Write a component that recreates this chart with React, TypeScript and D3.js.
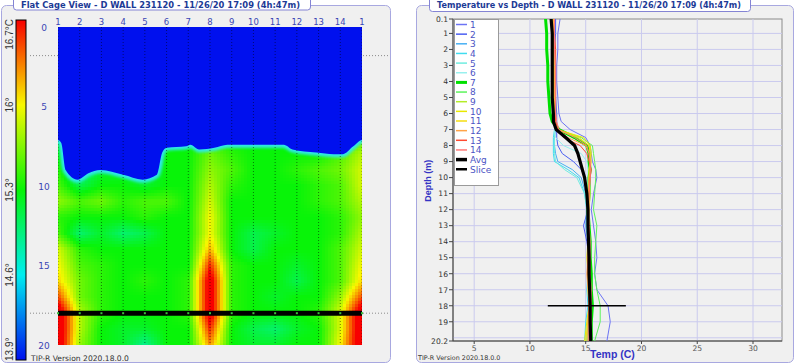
import React from 'react';
import * as d3 from 'd3';

// ---------- Flat cage view (left) ----------
const cageColumns = ['1', '2', '3', '4', '5', '6', '7', '8', '9', '10', '11', '12', '13', '14', '1'];
const cageDepthTicks = [0, 5, 10, 15, 20];
const scaleTemps = [13.9, 14.6, 15.3, 16.0, 16.7];
const scaleLabels = ['13.9°', '14.6°', '15.3°', '16°', '16.7°C'];
const scaleColors = ['#0010ee', '#00eef0', '#08f408', '#f8f800', '#f80000'];
const coldTemp = 13.9;

const gridDepths = [7, 8, 9, 10, 11, 12, 13, 14, 15, 16, 17, 18, 19, 20];
// rows = depth, columns = tubes 1..14 and the wrap back to tube 1
const gridTemps = [
  [15.3, 15.0, 15.0, 15.0, 15.0, 15.3, 15.3, 15.4, 15.3, 15.3, 15.3, 15.3, 15.3, 15.4, 15.5],
  [15.3, 15.0, 15.0, 15.0, 15.0, 15.3, 15.3, 15.6, 15.4, 15.3, 15.3, 15.3, 15.3, 15.5, 15.8],
  [15.4, 14.9, 15.2, 15.2, 15.1, 15.3, 15.3, 15.7, 15.5, 15.3, 15.3, 15.4, 15.5, 15.6, 15.9],
  [15.5, 15.1, 15.3, 15.3, 15.2, 15.3, 15.3, 15.8, 15.4, 15.3, 15.3, 15.3, 15.4, 15.5, 15.9],
  [15.7, 15.5, 15.6, 15.4, 15.5, 15.5, 15.3, 15.9, 15.3, 15.3, 15.3, 15.3, 15.4, 15.5, 15.8],
  [15.4, 15.3, 15.3, 15.3, 15.4, 15.3, 15.3, 16.0, 15.3, 15.3, 15.3, 15.3, 15.3, 15.4, 15.7],
  [15.5, 15.0, 15.2, 15.0, 15.1, 15.3, 15.3, 16.0, 15.3, 15.1, 15.2, 15.3, 15.3, 15.4, 15.8],
  [15.9, 15.4, 15.3, 15.3, 15.3, 15.3, 15.3, 16.2, 15.3, 15.1, 15.3, 15.3, 15.3, 15.5, 15.9],
  [16.0, 15.5, 15.4, 15.3, 15.3, 15.3, 15.3, 16.6, 15.4, 15.3, 15.3, 15.2, 15.3, 15.5, 16.0],
  [16.1, 15.6, 15.4, 15.3, 15.4, 15.3, 15.4, 16.9, 15.4, 15.3, 15.3, 15.1, 15.3, 15.5, 16.1],
  [16.5, 15.6, 15.4, 15.3, 15.3, 15.3, 15.4, 16.9, 15.4, 15.3, 15.2, 15.3, 15.3, 15.7, 16.5],
  [17.0, 15.8, 15.4, 15.3, 15.3, 15.3, 15.4, 16.9, 15.4, 15.3, 15.3, 15.3, 15.4, 15.9, 17.0],
  [17.0, 15.8, 15.3, 15.2, 15.2, 15.3, 15.3, 16.6, 15.3, 15.1, 15.0, 15.2, 15.3, 15.9, 17.0],
  [17.0, 15.7, 15.3, 15.2, 14.9, 15.3, 15.3, 16.3, 15.3, 15.2, 15.2, 15.3, 15.3, 16.0, 17.0],
];

// bottom edge of the cold (blue) top layer
const coldEdgeCol = [1, 1.15, 1.35, 1.9, 2.4, 2.95, 4.0, 4.9, 5.55, 5.8, 6.0, 6.9, 7.1, 7.5, 8.2, 8.8, 11.4, 11.8, 12.9, 13.7, 14.1, 14.6, 15];
const coldEdgeDepth = [7.1, 7.3, 9.0, 9.6, 9.2, 9.0, 9.3, 9.6, 9.3, 7.9, 7.6, 7.5, 7.4, 7.7, 7.6, 7.4, 7.4, 7.7, 7.9, 8.0, 8.0, 7.5, 7.1];

const guideDepths = [1.8, 18];
const sliceDepth = 18;
const sliceTemps = [11.6, 18.6];

// ---------- Temperature vs depth (right) ----------
const depthsM = [0.1, 1, 2, 3, 4, 5, 6, 6.5, 7, 7.5, 8, 8.5, 9, 9.5, 10, 11, 12, 13, 14, 15, 16, 17, 18, 19, 20.2];
const tube1 = [12.7, 12.5, 12.5, 12.4, 12.4, 12.5, 12.6, 12.8, 13.6, 15.0, 15.4, 15.5, 15.6, 15.9, 16.0, 15.7, 15.5, 15.7, 15.9, 16.0, 15.8, 16.0, 17.0, 17.2, 16.9];
const tube2 = [12.3, 12.3, 12.2, 12.2, 12.3, 12.3, 12.4, 12.4, 12.4, 12.4, 12.5, 12.9, 13.9, 14.6, 14.9, 15.1, 15.2, 14.8, 15.1, 15.3, 15.2, 15.3, 15.4, 15.3, 15.2];
const tube3 = [12.2, 12.2, 12.2, 12.3, 12.2, 12.3, 12.3, 12.3, 12.3, 12.2, 12.2, 12.3, 12.5, 13.8, 14.6, 15.0, 15.1, 15.0, 15.2, 15.3, 15.2, 15.3, 15.3, 15.2, 15.1];
const tube4 = [12.1, 12.1, 12.1, 12.2, 12.2, 12.2, 12.2, 12.2, 12.2, 12.1, 12.1, 12.1, 12.2, 13.4, 14.4, 14.9, 15.1, 15.1, 15.2, 15.2, 15.2, 15.1, 15.2, 15.0, 14.9];
const tube5 = [12.2, 12.2, 12.2, 12.2, 12.3, 12.3, 12.3, 12.3, 12.2, 12.2, 12.2, 12.2, 12.3, 13.1, 14.2, 14.9, 15.1, 15.2, 15.2, 15.3, 15.3, 15.2, 15.3, 15.2, 15.0];
const tube6 = [12.1, 12.1, 12.1, 12.1, 12.1, 12.2, 12.2, 12.2, 12.2, 12.3, 13.0, 14.6, 15.1, 15.2, 15.2, 15.2, 15.3, 15.3, 15.3, 15.3, 15.3, 15.3, 15.4, 15.3, 15.3];
const tube7 = [11.4, 11.5, 11.5, 11.6, 11.6, 11.7, 11.8, 12.0, 12.6, 14.0, 15.1, 15.3, 15.3, 15.4, 15.3, 15.3, 15.2, 15.3, 15.4, 15.4, 15.5, 15.5, 15.6, 15.5, 15.5];
const tube8 = [12.0, 12.0, 12.0, 12.1, 12.1, 12.1, 12.2, 12.2, 12.4, 14.6, 15.6, 15.7, 15.8, 15.9, 15.9, 15.8, 15.7, 16.0, 15.9, 15.8, 15.8, 16.0, 16.3, 16.3, 15.8];
const tube9 = [12.0, 12.0, 12.1, 12.1, 12.1, 12.1, 12.2, 12.2, 12.4, 14.2, 15.3, 15.4, 15.4, 15.3, 15.3, 15.4, 15.3, 15.3, 15.3, 15.3, 15.2, 15.3, 15.3, 15.2, 15.1];
const tube10 = [12.0, 12.0, 12.0, 12.1, 12.1, 12.1, 12.1, 12.2, 12.5, 14.8, 15.4, 15.5, 15.4, 15.3, 15.3, 15.3, 15.3, 15.2, 15.2, 15.1, 15.2, 15.2, 15.3, 15.1, 14.9];
const tube11 = [12.1, 12.1, 12.1, 12.1, 12.2, 12.2, 12.2, 12.2, 12.4, 14.4, 15.3, 15.4, 15.5, 15.4, 15.3, 15.3, 15.2, 15.3, 15.3, 15.2, 15.2, 15.3, 15.3, 15.2, 15.0];
const tube12 = [12.1, 12.1, 12.2, 12.2, 12.2, 12.2, 12.3, 12.3, 12.5, 13.4, 15.0, 15.3, 15.4, 15.4, 15.3, 15.2, 15.2, 15.2, 15.2, 15.2, 15.1, 15.2, 15.3, 15.2, 15.2];
const tube13 = [12.2, 12.2, 12.3, 12.3, 12.3, 12.3, 12.3, 12.3, 12.5, 13.0, 14.5, 15.1, 15.3, 15.5, 15.4, 15.3, 15.2, 15.3, 15.3, 15.2, 15.2, 15.3, 15.3, 15.3, 15.3];
const tube14 = [12.2, 12.2, 12.2, 12.3, 12.3, 12.3, 12.3, 12.4, 12.6, 14.0, 15.1, 15.3, 15.4, 15.4, 15.4, 15.3, 15.3, 15.3, 15.4, 15.4, 15.4, 15.5, 15.5, 15.5, 15.4];
const avgTemps = [11.9, 12.0, 12.0, 12.0, 12.0, 12.0, 12.1, 12.1, 12.35, 13.2, 14.0, 14.3, 14.5, 14.7, 14.9, 15.1, 15.2, 15.2, 15.25, 15.3, 15.3, 15.35, 15.4, 15.4, 15.45];

const tubeNames = ['1', '2', '3', '4', '5', '6', '7', '8', '9', '10', '11', '12', '13', '14'];
const tubeColors = ['#6c74f4', '#4a5ef2', '#48b0f4', '#40dcf0', '#70ece0', '#98f0ee', '#00e000', '#5cf45c', '#b4ec28', '#e8e800', '#f4dc10', '#ffa448', '#ff4a30', '#ff7a78'];
const depthAxisTicks = [0.1, 1, 2, 3, 4, 5, 6, 7, 8, 9, 10, 11, 12, 13, 14, 15, 16, 17, 18, 19, 20.2];
const depthGrid = [1, 2, 3, 4, 5, 6, 7, 8, 9, 10, 11, 12, 13, 14, 15, 16, 17, 18, 19, 20];
const tempAxisTicks = [5, 10, 15, 20, 25, 30];

const titleDate = 'D WALL 231120 - 11/26/20 17:09 (4h:47m)';
const labelBlue = '#3a46b4';

// temperature at a fractional tube / depth position, read between grid nodes
function gridValue(col: number, depth: number) {
  const nc = gridTemps[0].length;
  const c = Math.max(0, Math.min(nc - 1, col - 1));
  const r = Math.max(0, Math.min(gridDepths.length - 1, depth - gridDepths[0]));
  const c0 = Math.min(Math.floor(c), nc - 2);
  const r0 = Math.min(Math.floor(r), gridDepths.length - 2);
  const fc = c - c0;
  const fr = r - r0;
  const top = gridTemps[r0][c0] * (1 - fc) + gridTemps[r0][c0 + 1] * fc;
  const bot = gridTemps[r0 + 1][c0] * (1 - fc) + gridTemps[r0 + 1][c0 + 1] * fc;
  return top * (1 - fr) + bot * fr;
}

export default function App() {
  const tubes = [tube1, tube2, tube3, tube4, tube5, tube6, tube7, tube8, tube9, tube10, tube11, tube12, tube13, tube14];

  // left panel scales
  const colX = d3.scaleLinear().domain([1, 15]).range([58, 362]);
  const cageY = d3.scaleLinear().domain([0, 20]).range([27, 345]);
  const heat = d3.scaleLinear<string>().domain(scaleTemps).range(scaleColors).clamp(true);
  const barY = d3.scaleLinear().domain([13.9, 16.7]).range([360, 20]);

  // raster of small tiles, coloured from the grid
  const step = 3;
  const tiles: JSX.Element[] = [];
  for (let py = cageY(6.5); py < cageY(20); py += step) {
    for (let px = colX(1); px < colX(15); px += step) {
      const t = gridValue(colX.invert(px + step / 2), cageY.invert(py + step / 2));
      tiles.push(<rect key={`${px}-${py}`} x={px} y={py} width={step + 0.6} height={step + 0.6} fill={heat(t)} />);
    }
  }

  const edgePts: [number, number][] = coldEdgeCol.map((c, i) => [c, coldEdgeDepth[i]]);
  const edgeExt: [number, number][] = [[0.3, coldEdgeDepth[0]], ...edgePts, [15.7, coldEdgeDepth[coldEdgeDepth.length - 1]]];
  const coldArea = d3.area<[number, number]>()
    .x((p) => colX(p[0]))
    .y0(cageY(0) - 10)
    .y1((p) => cageY(p[1]))
    .curve(d3.curveMonotoneX);
  const coldLine = d3.line<[number, number]>()
    .x((p) => colX(p[0]))
    .y((p) => cageY(p[1]))
    .curve(d3.curveMonotoneX);

  // right panel scales
  const tX = d3.scaleLinear().domain([3.1, 32.6]).range([453, 782]);
  const dY = d3.scaleLinear().domain([0.1, 20.2]).range([19, 341]);
  const profile = d3.line<number>()
    .x((t) => tX(t))
    .y((_, i) => dY(depthsM[i]));

  const legendItems = [
    ...tubeNames.map((n, i) => ({ name: n, color: tubeColors[i], w: i === 6 ? 3 : 1.5 })),
    { name: 'Avg', color: '#000', w: 3.5 },
    { name: 'Slice', color: '#000', w: 2.5 },
  ];

  const font = 'DejaVu Sans, Verdana, sans-serif';

  return (
    <div style={{ position: 'absolute', left: 0, top: 0 }}>
      <svg width={800} height={364} style={{ display: 'block', background: '#fff' }}>
        <defs>
          <clipPath id="hmClip">
            <rect x={colX(1)} y={cageY(0)} width={colX(15) - colX(1)} height={cageY(20) - cageY(0)} />
          </clipPath>
          <filter id="edgeBlur" filterUnits="userSpaceOnUse" x={0} y={0} width={400} height={364} colorInterpolationFilters="sRGB">
            <feGaussianBlur stdDeviation="1.5" />
          </filter>
          <linearGradient id="cbGrad" x1="0" y1="1" x2="0" y2="0">
            {scaleTemps.map((t, i) => (
              <stop key={t} offset={(t - 13.9) / 2.8} stopColor={scaleColors[i]} />
            ))}
          </linearGradient>
        </defs>

        {/* ---------- left panel ---------- */}
        <rect x={1.5} y={5.5} width={389} height={357} rx={5} fill="#f0f0f0" stroke="#a8a8e0" />
        <rect x={13.5} y={-4} width={297} height={14} rx={3} fill="#fff" stroke="#8484d4" />
        <text x={21} y={8.3} fontFamily={font} fontWeight="bold" fontSize={8.6} fill="#1c3a96"
          textLength={279} lengthAdjust="spacingAndGlyphs">
          {`Flat Cage View - ${titleDate}`}
        </text>

        {/* colour bar */}
        <rect x={16} y={barY(16.7)} width={10} height={barY(13.9) - barY(16.7)} fill="url(#cbGrad)" stroke="#000" strokeWidth={1} />
        {scaleTemps.map((t, i) => {
          const y = barY(t);
          const anchor = i === scaleTemps.length - 1 ? 'end' : i === 0 ? 'start' : 'middle';
          const yy = i === scaleTemps.length - 1 ? y - 1 : i === 0 ? y + 1 : y;
          return (
            <text key={t} transform={`translate(13,${yy}) rotate(-90)`} textAnchor={anchor}
              fontFamily="Liberation Sans, Arial, sans-serif" fontSize={10} fill="#333">
              {scaleLabels[i]}
            </text>
          );
        })}

        {/* guide lines behind the map */}
        {guideDepths.map((d) => (
          <line key={d} x1={30} x2={388} y1={cageY(d)} y2={cageY(d)} stroke="#8a8a8a" strokeDasharray="1 2" />
        ))}

        {/* heat map */}
        <g clipPath="url(#hmClip)">
          <g shapeRendering="crispEdges">{tiles}</g>
          <path d={coldLine(edgeExt) || ''} fill="none" stroke="#30e8ec" strokeWidth={6} filter="url(#edgeBlur)" />
          <path d={coldArea(edgeExt) || ''} fill={heat(coldTemp)} />
          {cageColumns.map((_, i) => (
            <line key={i} x1={colX(i + 1)} x2={colX(i + 1)} y1={cageY(0)} y2={cageY(20)}
              stroke="#000" strokeOpacity={0.5} strokeDasharray="1 2" />
          ))}
        </g>

        {/* slice */}
        <line x1={colX(1)} x2={colX(15)} y1={cageY(sliceDepth)} y2={cageY(sliceDepth)} stroke="#000" strokeWidth={5} />
        {cageColumns.map((_, i) => (
          <rect key={i} x={colX(i + 1) - 1} y={cageY(sliceDepth) - 1} width={2} height={2} fill="#3cc03c" />
        ))}

        {/* axes labels */}
        {cageColumns.map((c, i) => (
          <text key={i} x={colX(i + 1)} y={25} textAnchor="middle" fontFamily={font} fontSize={8.5} fill={labelBlue}>{c}</text>
        ))}
        {cageDepthTicks.map((d) => (
          <text key={d} x={44} y={cageY(d) + 3.5} textAnchor="middle" fontFamily={font} fontSize={9} fill={labelBlue}>{d}</text>
        ))}
        <text x={31} y={361} fontFamily={font} fontSize={7.6} fill="#333">TIP-R Version 2020.18.0.0</text>

        {/* ---------- right panel ---------- */}
        <rect x={416.5} y={5.5} width={377} height={357} rx={5} fill="#f0f0f0" stroke="#a8a8e0" />
        <rect x={429.5} y={-4} width={321} height={15.5} rx={3} fill="#fff" stroke="#8484d4" />
        <text x={437} y={8.3} fontFamily={font} fontWeight="bold" fontSize={8.6} fill="#1c3a96"
          textLength={304} lengthAdjust="spacingAndGlyphs">
          {`Temperature vs Depth - ${titleDate}`}
        </text>

        <rect x={tX(3.1)} y={dY(0.1)} width={tX(32.6) - tX(3.1)} height={dY(20.2) - dY(0.1)} fill="#f0f0f0" stroke="#8a8a8a" />
        {depthGrid.map((d) => (
          <line key={d} x1={tX(3.1)} x2={tX(32.6)} y1={dY(d)} y2={dY(d)} stroke="#cacaee" />
        ))}
        {tempAxisTicks.map((t) => (
          <line key={t} x1={tX(t)} x2={tX(t)} y1={dY(0.1)} y2={dY(20.2)} stroke="#cacaee" />
        ))}

        {/* axes */}
        <line x1={tX(3.1)} x2={tX(3.1)} y1={dY(0.1)} y2={dY(20.2)} stroke="#444" />
        <line x1={tX(3.1)} x2={tX(32.6)} y1={dY(20.2)} y2={dY(20.2)} stroke="#444" />
        {depthAxisTicks.map((d) => (
          <g key={d}>
            <line x1={tX(3.1) - 4} x2={tX(3.1)} y1={dY(d)} y2={dY(d)} stroke="#444" />
            <text x={tX(3.1) - 5} y={dY(d) + 2.8} textAnchor="end" fontFamily={font} fontSize={7.6} fill="#333">{d}</text>
          </g>
        ))}
        {tempAxisTicks.map((t) => (
          <g key={t}>
            <line x1={tX(t)} x2={tX(t)} y1={dY(20.2)} y2={dY(20.2) + 3} stroke="#444" />
            <text x={tX(t)} y={dY(20.2) + 10} textAnchor="middle" fontFamily={font} fontSize={7.6} fill="#555">{t}</text>
          </g>
        ))}
        <text transform={`translate(431,${dY(10.2)}) rotate(-90)`} textAnchor="middle"
          fontFamily="Liberation Sans, Arial, sans-serif" fontWeight="bold" fontSize={9} fill="#3434c4">Depth (m)</text>
        <text x={tX(17.4)} y={358} textAnchor="middle" fontFamily="Liberation Sans, Arial, sans-serif"
          fontWeight="bold" fontSize={10.5} fill="#3434c4">Temp (C)</text>
        <text x={418} y={360} fontFamily={font} fontSize={6.4} fill="#333">TIP-R Version 2020.18.0.0</text>

        {/* profiles */}
        <g>
          {tubes.map((tube, i) => (
            <path key={i} d={profile(tube) || ''} fill="none" stroke={tubeColors[i]} strokeWidth={i === 6 ? 3 : 1} />
          ))}
          <path d={profile(avgTemps) || ''} fill="none" stroke="#000" strokeWidth={3.2} />
          <line x1={tX(sliceTemps[0])} x2={tX(sliceTemps[1])} y1={dY(sliceDepth)} y2={dY(sliceDepth)} stroke="#000" strokeWidth={1.6} />
        </g>

        {/* legend */}
        <rect x={454.5} y={19.5} width={44} height={166} fill="#fff" stroke="#9a9a9a" />
        {legendItems.map((it, i) => {
          const y = 24.5 + i * 9.65;
          return (
            <g key={it.name}>
              <line x1={456} x2={467} y1={y} y2={y} stroke={it.color} strokeWidth={it.w} />
              <text x={470} y={y + 3.4} fontFamily={font} fontSize={9} fill="#4c54c4">{it.name}</text>
            </g>
          );
        })}
      </svg>
    </div>
  );
}
